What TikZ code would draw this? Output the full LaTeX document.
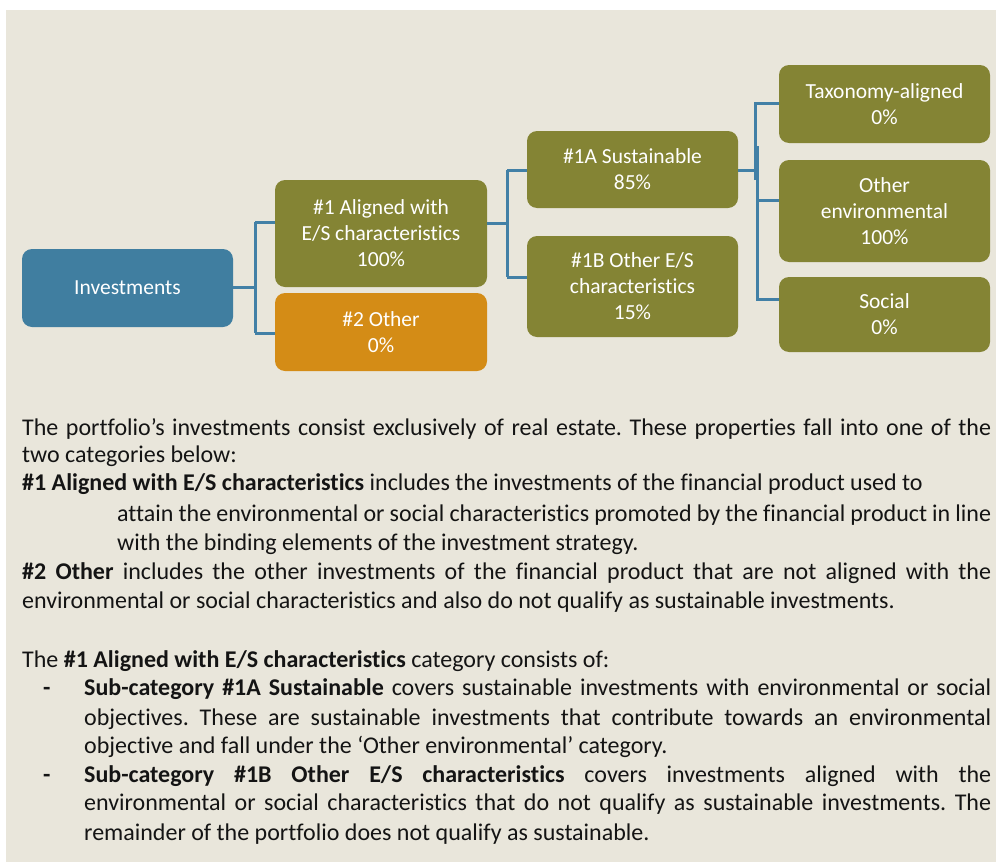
\documentclass[tikz,border=0pt]{standalone}
\usepackage{fontspec}
\setmainfont{Carlito}[Ligatures=NoCommon]
\frenchspacing
\definecolor{bgbeige}{RGB}{233,230,219}
\definecolor{boxblue}{RGB}{64,126,160}
\definecolor{boxolive}{RGB}{132,132,52}
\definecolor{boxorange}{RGB}{212,140,22}
\definecolor{linkblue}{RGB}{66,128,166}
\definecolor{bodyink}{RGB}{20,20,20}
\tikzset{
  catbox/.style={rounded corners=10pt, inner sep=0pt, align=center, text=white,
    font=\fontsize{21.5}{26}\selectfont},
  bluebox/.style={catbox, fill=boxblue},
  olivebox/.style={catbox, fill=boxolive},
  orangebox/.style={catbox, fill=boxorange},
  link/.style={draw=linkblue, line width=3pt},
  bodyline/.style={anchor=base west, inner sep=0pt, text=bodyink,
    font=\fontsize{24}{29}\selectfont}
}
\begin{document}
\begin{tikzpicture}[x=1pt, y=-1pt]
\useasboundingbox (0,0) rectangle (996,862);
\fill[white] (0,0) rectangle (996,862);
\fill[bgbeige] (6,10) rectangle (996,862);

% boxes
\node[bluebox, minimum width=211pt, minimum height=78pt] (inv) at (127.5,288) {Investments};
\node[olivebox, minimum width=212pt, minimum height=107pt] (a1) at (381,233.5) {\#1 Aligned with\\E/S characteristics\\100\%};
\node[orangebox, minimum width=212pt, minimum height=78pt] (o2) at (381,332) {\#2 Other\\0\%};
\node[olivebox, minimum width=211pt, minimum height=77pt] (s1a) at (632.5,169.5) {\#1A Sustainable\\85\%};
\node[olivebox, minimum width=211pt, minimum height=101pt] (s1b) at (632.5,286.5) {\#1B Other E/S\\characteristics\\15\%};
\node[olivebox, minimum width=211pt, minimum height=78pt] (tax) at (884.5,104) {Taxonomy-aligned\\0\%};
\node[olivebox, minimum width=211pt, minimum height=102pt] (env) at (884.5,211) {Other\\environmental\\100\%};
\node[olivebox, minimum width=211pt, minimum height=75pt] (soc) at (884.5,314.5) {Social\\0\%};

% connector junctions
\coordinate (j1) at (255,287);
\coordinate (j1t) at (255,222);
\coordinate (j1b) at (255,333);
\coordinate (j2) at (507,223);
\coordinate (j2t) at (507,170);
\coordinate (j2b) at (507,277);
\coordinate (j3) at (759,170);
\coordinate (j3t) at (755.5,103);
\coordinate (j3m) at (755.5,180);
\coordinate (j3u) at (757.5,146);
\coordinate (j3e) at (757.5,200);
\coordinate (j3b) at (757.5,299);

\draw[link] (inv.east |- j1) -- (j1);
\draw[link] (j1t) -- (j1b);
\draw[link] (j1t) -- (j1t -| a1.west);
\draw[link] (j1b) -- (j1b -| o2.west);

\draw[link] (j2 -| a1.east) -- (j2);
\draw[link] (j2t) -- (j2b);
\draw[link] (j2t) -- (j2t -| s1a.west);
\draw[link] (j2b) -- (j2b -| s1b.west);

\draw[link] (j3 -| s1a.east) -- (j3);
\draw[link] (j3m) -- (j3t) -- (j3t -| tax.west);
\draw[link] (j3u) -- (j3b) -- (j3b -| soc.west);
\draw[link] (j3e) -- (j3e -| env.west);

% body text
\node[bodyline] (t1) at (22,435) {\makebox[969pt][s]{The portfolio’s investments consist exclusively of real estate. These properties fall into one of the}};
\node[bodyline] (t2) at (22,462) {two categories below:};
\node[bodyline] (t3) at (22,490) {\textbf{\#1 Aligned with E/S characteristics} includes the investments of the financial product used to};
\node[bodyline] (t4) at (117,521) {\makebox[874pt][s]{attain the environmental or social characteristics promoted by the financial product in line}};
\node[bodyline] (t5) at (117,550) {with the binding elements of the investment strategy.};
\node[bodyline] (t6) at (22,579) {\makebox[969pt][s]{\textbf{\#2 Other} includes the other investments of the financial product that are not aligned with the}};
\node[bodyline] (t7) at (22,608) {environmental or social characteristics and also do not qualify as sustainable investments.};

\node[bodyline] (t8) at (22,667) {The \textbf{\#1 Aligned with E/S characteristics} category consists of:};
\node[bodyline] (d1) at (43,695) {\textbf{-}};
\node[bodyline] (t9) at (84,695) {\makebox[907pt][s]{\textbf{Sub-category \#1A Sustainable} covers sustainable investments with environmental or social}};
\node[bodyline] (t10) at (84,725) {\makebox[907pt][s]{objectives. These are sustainable investments that contribute towards an environmental}};
\node[bodyline] (t11) at (84,753) {objective and fall under the ‘Other environmental’ category.};
\node[bodyline] (d2) at (43,782) {\textbf{-}};
\node[bodyline] (t12) at (84,782) {\makebox[907pt][s]{\textbf{Sub-category \#1B Other E/S characteristics} covers investments aligned with the}};
\node[bodyline] (t13) at (84,810) {\makebox[907pt][s]{environmental or social characteristics that do not qualify as sustainable investments. The}};
\node[bodyline] (t14) at (84,840) {remainder of the portfolio does not qualify as sustainable.};
\end{tikzpicture}
\end{document}
